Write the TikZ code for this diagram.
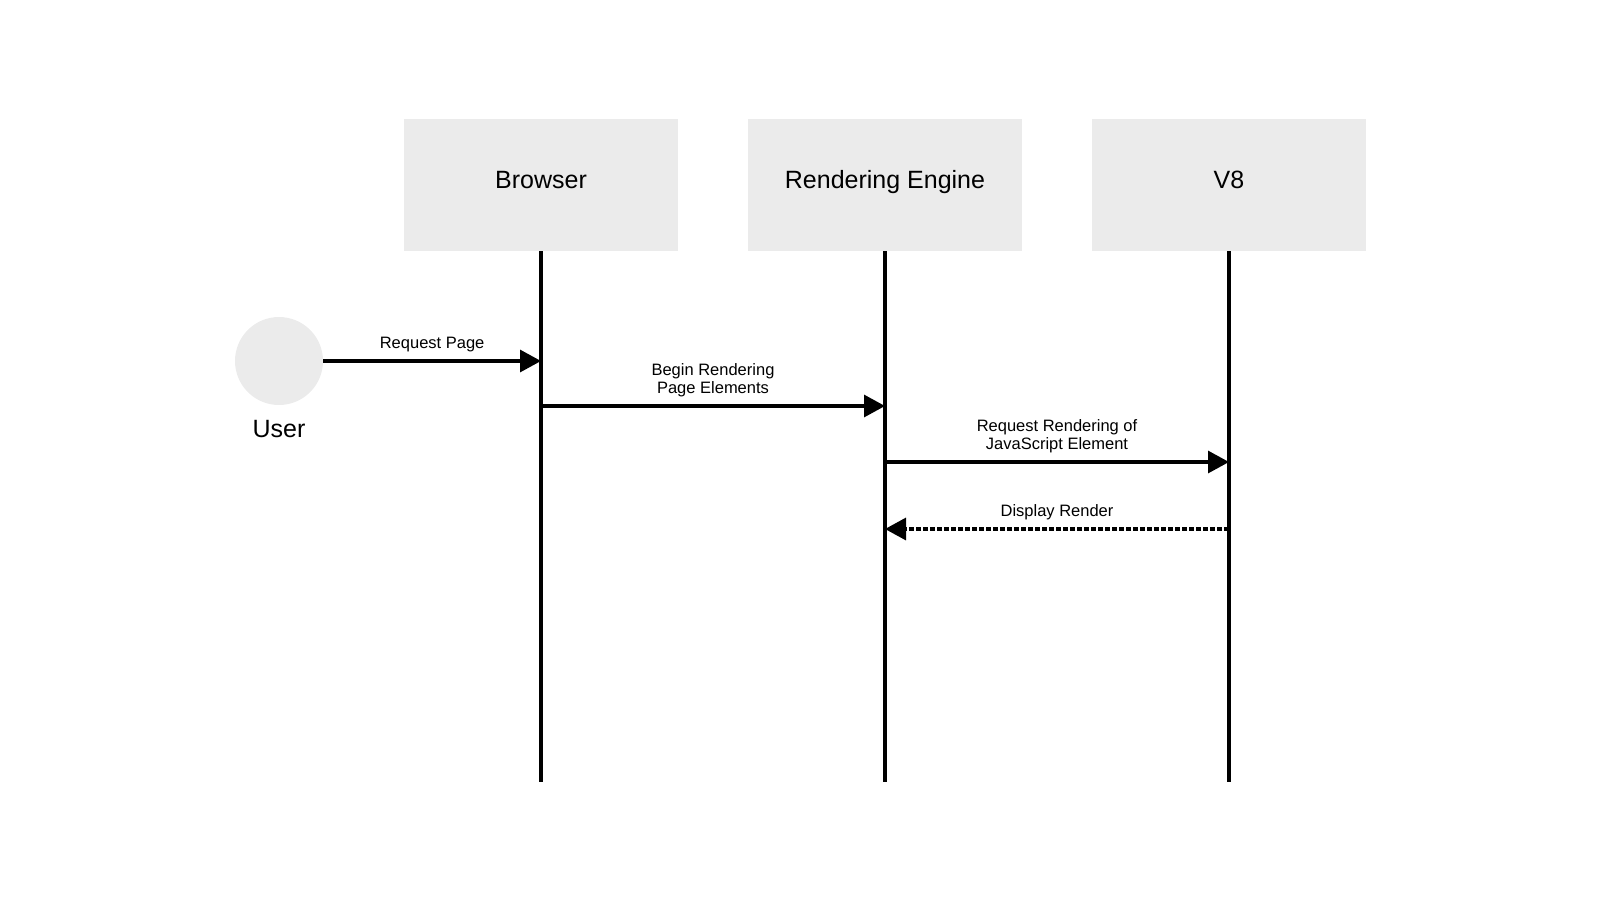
\documentclass[tikz,border=0pt]{standalone}
\usepackage{fontspec}
\setmainfont{Liberation Sans}
\usetikzlibrary{arrows.meta,positioning}
\definecolor{boxgray}{HTML}{EBEBEB}
\begin{document}
\begin{tikzpicture}[x=1pt, y=-1pt,
    every node/.style={inner sep=0pt, font=\fontsize{25}{30}\selectfont},
    party/.style={fill=boxgray, minimum width=274pt, minimum height=132pt,
      text height=18pt, text depth=12pt},
    lifeline/.style={line width=3.2pt},
    msg/.style={line width=3.2pt, -{Triangle[length=21pt,width=22pt]}},
    reply/.style={msg, dash pattern=on 5pt off 2pt},
    msglabel/.style={font=\fontsize{16.5}{18.5}\selectfont, align=center, above=7pt}]
    \useasboundingbox (0,0) rectangle (1600,900);

    \foreach \n/\name in {1/Browser,2/Rendering Engine,3/V8} {
      \pgfmathsetmacro\x{541 + (\n-1)*344}
      \node[party] (p\n) at (\x, 185) {\name};
      \coordinate (end\n) at (\x, 782);
      \draw[lifeline] (p\n.south) -- (end\n);
    }

    \node[circle, fill=boxgray, minimum size=88pt] (user) at (279, 361) {};
    \node (username) [below=15pt of user] {User};

    % Message rows
    \coordinate (row2) at (0, 406);
    \coordinate (row3) at (0, 462);
    \coordinate (row4) at (0, 529);

    \draw[msg] (user.east) -- (user.east -| p1) node[msglabel, midway] {Request Page};
    \draw[msg] (p1 |- row2) -- (p2 |- row2) node[msglabel, midway] {Begin Rendering\\Page Elements};
    \draw[msg] (p2 |- row3) -- (p3 |- row3) node[msglabel, midway] {Request Rendering of\\JavaScript Element};
    \draw[reply] (p3 |- row4) -- (p2 |- row4) node[msglabel, midway] {Display Render};

  \end{tikzpicture}
\end{document}
